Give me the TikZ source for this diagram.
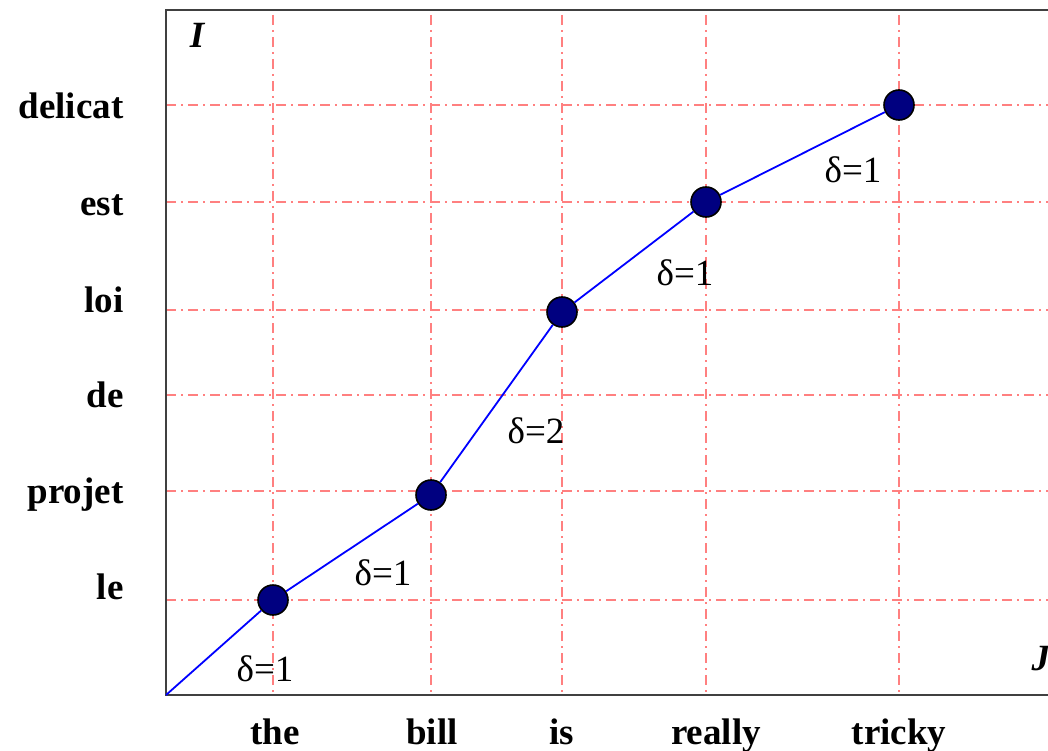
\documentclass[tikz,border=0pt]{standalone}
\usepackage{fontspec}
\setmainfont{Liberation Serif}
\definecolor{navyfill}{RGB}{0,0,128}
\tikzset{
  gridline/.style = {red!50, line width = 1.2pt, dash pattern = on 10pt off 5pt on 2pt off 5pt},
  axisline/.style = {black!75, line width = 1.6pt},
  word/.style = {font = \fontsize{37}{40}\selectfont\bfseries},
  axisname/.style = {font = \fontsize{37}{40}\selectfont\bfseries\itshape},
  align pt/.style = {draw = black, line width = 1.6pt, circle, fill = navyfill, minimum size = 30pt, inner sep = 0pt},
  cost/.style = {anchor = base}
}
\begin{document}
\begin{tikzpicture}[x = 1pt, y = -1pt, font = \fontsize{37}{40}\selectfont]
\useasboundingbox (0,0) rectangle (1048,751);
% grid
\draw[gridline] (166,105) -- (1048,105);
\draw[gridline] (166,202) -- (1048,202);
\draw[gridline] (166,310) -- (1048,310);
\draw[gridline] (166,395) -- (1048,395);
\draw[gridline] (166,491) -- (1048,491);
\draw[gridline] (166,600) -- (1048,600);
\draw[gridline] (273,15) -- (273,695);
\draw[gridline] (431,15) -- (431,695);
\draw[gridline] (562,15) -- (562,695);
\draw[gridline] (706,15) -- (706,695);
\draw[gridline] (899,15) -- (899,695);
% frame
\draw[axisline] (1048,10) -- (166,10) -- (166,695) -- (1048,695);
\coordinate (o) at (166,695);
% target words
\node[word, anchor = base east] at (127,119) (delicat) {delicat};
\node[word, anchor = base east] at (127,216) (est) {est};
\node[word, anchor = base east] at (127,312) (loi) {loi};
\node[word, anchor = base east] at (127,407) (de) {de};
\node[word, anchor = base east] at (127,503) (projet) {projet};
\node[word, anchor = base east] at (127,599) (le) {le};
% source words
\node[word, anchor = base] at (275,744) (the) {the};
\node[word, anchor = base] at (432,744) (bill) {bill};
\node[word, anchor = base] at (562,744) (is) {is};
\node[word, anchor = base] at (716,744) (really) {really};
\node[word, anchor = base] at (899,744) (tricky) {tricky};
\node[axisname] at (197,35) (I) {I};
\node[axisname, anchor = base west] at (1028,670) (J) {J};
% alignment path
\node[align pt] at (273,600) (p1) {};
\node[align pt] at (431,495) (p2) {};
\node[align pt] at (562,312) (p3) {};
\node[align pt] at (706,202) (p4) {};
\node[align pt] at (899,105) (p5) {};
\draw[blue, line width = 1.8pt] (o) -- (p1) -- (p2) -- (p3) -- (p4) -- (p5);
% jumps
\node[cost] at (265,681) (d1) {δ=1};
\node[cost] at (383,585) (d2) {δ=1};
\node[cost] at (536,443) (d3) {δ=2};
\node[cost] at (685,285) (d4) {δ=1};
\node[cost] at (853,183) (d5) {δ=1};
\end{tikzpicture}
\end{document}
